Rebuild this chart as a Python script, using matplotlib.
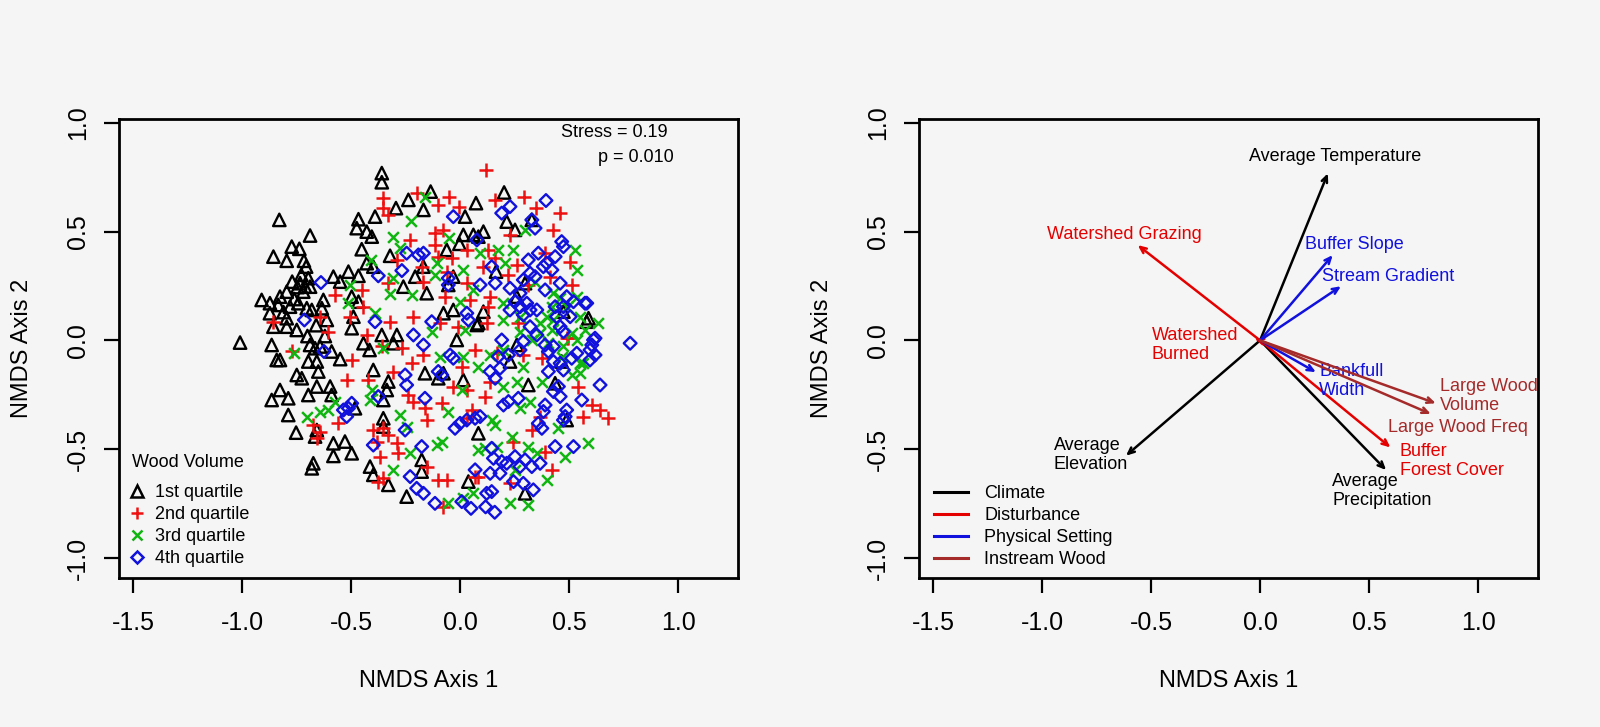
import numpy as np
import matplotlib
matplotlib.use("Agg")
import matplotlib.pyplot as plt
from matplotlib.lines import Line2D

plt.rcParams['font.family'] = ['Liberation Sans', 'DejaVu Sans']

# ---- NMDS site scores (by wood volume quartile) ----
q1_pts = [  # 1st quartile (black triangles)
    (-0.359, 0.769), (-0.359, 0.727), (-0.829, 0.554), (-0.688, 0.482), (-0.772, 0.431),
    (-0.737, 0.421), (-0.856, 0.385), (-0.795, 0.366), (-0.466, 0.557), (-0.474, 0.516),
    (-0.428, 0.500), (-0.390, 0.569), (-0.294, 0.608), (-0.237, 0.646), (-0.405, 0.477),
    (-0.451, 0.419), (-0.428, 0.355), (-0.321, 0.389), (-0.716, 0.366), (-0.706, 0.339),
    (-0.728, 0.301), (-0.696, 0.286), (-0.734, 0.263), (-0.711, 0.247), (-0.688, 0.247),
    (-0.746, 0.245), (-0.719, 0.224), (-0.512, 0.316), (-0.466, 0.297), (-0.581, 0.293),
    (-0.550, 0.270), (-0.910, 0.186), (-0.872, 0.171), (-0.826, 0.201), (-0.795, 0.224),
    (-0.834, 0.163), (-0.780, 0.155), (-0.742, 0.171), (-0.703, 0.148), (-0.872, 0.125),
    (-0.680, 0.140), (-0.627, 0.186), (-0.634, 0.148), (-0.497, 0.201), (-0.466, 0.178),
    (-0.795, 0.102), (-0.611, 0.094), (-0.489, 0.109), (-0.260, 0.247), (-0.206, 0.293),
    (-0.398, 0.339), (-0.135, 0.684), (0.073, 0.631), (0.202, 0.680), (0.023, 0.569),
    (-0.168, 0.600), (0.214, 0.546), (0.252, 0.508), (0.015, 0.485), (0.061, 0.485),
    (0.107, 0.500), (0.084, 0.477), (-0.061, 0.416), (-0.003, 0.444), (0.329, 0.554),
    (0.165, 0.316), (-0.031, 0.293), (-0.054, 0.255), (-0.153, 0.217), (-0.168, 0.339),
    (0.298, 0.263), (0.260, 0.201), (-0.031, 0.140), (0.107, 0.132), (-0.076, 0.125),
    (0.474, 0.132), (0.589, 0.102), (0.084, 0.079), (-1.009, -0.010), (-0.864, -0.021),
    (-0.841, -0.090), (-0.826, -0.090), (-0.688, -0.021), (-0.665, -0.036), (-0.642, -0.028),
    (-0.589, -0.051), (-0.550, -0.086), (-0.696, -0.097), (-0.657, -0.097), (-0.650, -0.143),
    (-0.749, -0.159), (-0.726, -0.174), (-0.826, -0.228), (-0.864, -0.274), (-0.788, -0.266),
    (-0.696, -0.251), (-0.657, -0.212), (-0.596, -0.212), (-0.589, -0.251), (-0.788, -0.343),
    (-0.752, -0.424), (-0.657, -0.412), (-0.665, -0.442), (-0.581, -0.473), (-0.528, -0.465),
    (-0.581, -0.531), (-0.497, -0.519), (-0.673, -0.565), (-0.680, -0.588), (-0.856, 0.063),
    (-0.795, 0.063), (-0.749, 0.048), (-0.497, 0.056), (-0.359, 0.025), (-0.290, 0.025),
    (-0.443, -0.013), (-0.415, -0.044), (-0.306, -0.013), (-0.398, -0.136), (-0.329, -0.189),
    (-0.336, -0.228), (-0.352, -0.274), (-0.352, -0.358), (-0.352, -0.396), (-0.482, -0.312),
    (-0.413, -0.580), (-0.398, -0.618), (-0.329, -0.664), (-0.245, -0.718), (0.077, 0.071),
    (0.581, 0.086), (-0.015, 0.002), (0.260, -0.021), (0.229, -0.097), (0.015, -0.182),
    (0.313, -0.205), (0.436, -0.197), (-0.161, -0.151), (-0.100, -0.174), (-0.076, -0.151),
    (0.084, -0.427), (-0.176, -0.549), (-0.176, -0.603), (0.038, -0.649), (0.298, -0.703),
    (0.466, -0.097), (0.489, -0.366), (-0.770, 0.270), (-0.660, 0.070), (-0.700, 0.020),
    (-0.620, 0.020), (-0.810, 0.130), (-0.760, 0.190),
]
q2_pts = [  # 2nd quartile (red plus)
    (-0.352, 0.654), (-0.329, 0.577), (-0.352, 0.608), (-0.199, 0.677), (-0.229, 0.462),
    (-0.290, 0.370), (-0.329, 0.263), (-0.451, 0.232), (-0.573, 0.209), (-0.214, 0.109),
    (-0.321, 0.086), (-0.642, 0.109), (-0.443, 0.155), (-0.505, 0.109), (0.119, 0.784),
    (-0.049, 0.661), (-0.100, 0.623), (-0.003, 0.612), (0.161, 0.646), (0.294, 0.661),
    (0.349, 0.608), (0.459, 0.585), (0.425, 0.508), (0.229, 0.485), (-0.115, 0.493),
    (-0.076, 0.508), (-0.115, 0.439), (-0.100, 0.385), (-0.038, 0.378), (0.031, 0.416),
    (0.130, 0.416), (0.161, 0.378), (0.107, 0.339), (-0.061, 0.316), (0.031, 0.263),
    (-0.069, 0.201), (0.046, 0.186), (0.138, 0.201), (0.130, 0.155), (0.222, 0.301),
    (0.260, 0.347), (0.390, 0.401), (0.505, 0.362), (0.413, 0.293), (0.512, 0.255),
    (0.313, 0.255), (-0.168, 0.270), (-0.176, 0.339), (-0.092, 0.079), (0.122, 0.079),
    (0.267, 0.079), (0.497, 0.010), (-0.856, 0.086), (-0.604, 0.040), (-0.772, -0.051),
    (-0.497, -0.090), (-0.520, -0.182), (-0.421, -0.182), (-0.428, 0.025), (-0.359, -0.028),
    (-0.267, -0.036), (-0.222, -0.105), (-0.306, -0.143), (-0.237, -0.251), (-0.214, -0.281),
    (-0.673, -0.389), (-0.642, -0.419), (-0.657, -0.450), (-0.558, -0.381), (-0.398, -0.412),
    (-0.352, -0.404), (-0.329, -0.434), (-0.382, -0.465), (-0.367, -0.534), (-0.375, -0.649),
    (-0.352, -0.634), (-0.290, -0.473), (-0.283, -0.519), (-0.008, 0.063), (-0.168, -0.067),
    (0.069, -0.044), (0.168, -0.059), (0.290, -0.067), (0.375, -0.082), (0.489, 0.010),
    (0.008, -0.120), (-0.031, -0.212), (0.031, -0.228), (0.115, -0.258), (0.138, -0.189),
    (-0.084, -0.289), (-0.161, -0.312), (-0.153, -0.366), (0.054, -0.320), (0.031, -0.358),
    (0.367, -0.350), (0.329, -0.412), (0.543, -0.212), (0.604, -0.297), (0.642, -0.320),
    (0.566, -0.350), (0.680, -0.358), (0.245, -0.465), (0.390, -0.511), (0.421, -0.595),
    (-0.153, -0.580), (-0.100, -0.641), (-0.061, -0.641), (0.069, -0.626), (0.084, -0.626),
    (0.229, -0.657), (-0.076, -0.764),
]
q3_pts = [  # 3rd quartile (green x)
    (-0.226, 0.549), (-0.309, 0.474), (-0.275, 0.424), (-0.410, 0.370), (-0.505, 0.255),
    (-0.321, 0.214), (-0.222, 0.209), (-0.512, 0.171), (-0.390, 0.125), (-0.306, 0.286),
    (-0.161, 0.661), (-0.049, 0.470), (0.298, 0.508), (0.245, 0.416), (0.176, 0.416),
    (0.092, 0.401), (-0.107, 0.355), (0.015, 0.324), (0.206, 0.355), (0.528, 0.416),
    (0.535, 0.324), (-0.115, 0.301), (0.061, 0.232), (0.344, 0.270), (0.428, 0.217),
    (0.459, 0.194), (0.535, 0.201), (0.489, 0.155), (0.421, 0.155), (0.199, 0.171),
    (0.000, 0.178), (0.367, 0.079), (0.428, 0.094), (0.199, 0.094), (0.634, 0.079),
    (0.573, 0.048), (0.550, -0.151), (-0.761, -0.059), (-0.703, -0.350), (-0.642, -0.327),
    (-0.604, -0.320), (-0.573, -0.281), (-0.405, -0.228), (-0.413, -0.274), (-0.275, -0.343),
    (-0.245, -0.396), (-0.229, -0.519), (-0.306, -0.595), (-0.352, -0.036), (-0.130, 0.040),
    (0.023, 0.048), (-0.092, -0.074), (0.015, -0.074), (0.084, -0.120), (0.138, -0.067),
    (0.199, -0.044), (0.275, 0.040), (0.329, 0.002), (0.367, 0.033), (0.405, -0.013),
    (0.535, 0.002), (0.550, -0.105), (0.512, -0.159), (0.466, -0.074), (0.260, -0.189),
    (0.199, -0.212), (0.375, -0.189), (0.275, -0.312), (-0.054, -0.327), (0.008, -0.228),
    (0.145, -0.366), (0.161, -0.389), (0.321, -0.281), (0.451, -0.404), (0.589, -0.473),
    (-0.084, -0.465), (-0.107, -0.481), (0.084, -0.503), (0.115, -0.496), (0.168, -0.488),
    (0.237, -0.442), (0.313, -0.488), (0.352, -0.519), (0.482, -0.534), (0.397, -0.641),
    (-0.054, -0.749), (0.015, -0.726), (0.061, -0.703), (0.229, -0.749), (0.313, -0.756),
    (0.252, -0.595), (0.421, 0.048), (0.512, 0.033), (0.566, -0.105), (0.474, -0.028),
    (0.290, -0.120), (0.397, 0.109), (0.275, 0.109), (0.550, 0.109),
]
q4_pts = [  # 4th quartile (blue diamonds)
    (-0.638, 0.266), (-0.375, 0.297), (-0.267, 0.321), (-0.245, 0.401), (-0.191, 0.393),
    (-0.714, 0.094), (-0.390, 0.086), (-0.031, 0.569), (0.394, 0.643), (0.229, 0.615),
    (0.191, 0.585), (0.329, 0.554), (0.344, 0.516), (0.077, 0.462), (0.466, 0.454),
    (0.474, 0.431), (-0.168, 0.401), (0.313, 0.370), (0.359, 0.401), (0.436, 0.385),
    (0.321, 0.309), (0.344, 0.293), (0.382, 0.339), (0.421, 0.324), (0.397, 0.355),
    (0.145, 0.339), (0.161, 0.263), (-0.054, 0.286), (-0.054, 0.255), (0.092, 0.255),
    (0.229, 0.240), (0.290, 0.278), (0.275, 0.217), (0.252, 0.178), (0.275, 0.155),
    (0.306, 0.171), (0.321, 0.140), (0.290, 0.117), (0.390, 0.232), (0.459, 0.263),
    (0.489, 0.201), (0.520, 0.178), (0.573, 0.171), (0.474, 0.155), (0.443, 0.109),
    (0.031, 0.125), (0.038, 0.094), (-0.130, 0.086), (-0.624, -0.051), (-0.512, -0.312),
    (-0.520, -0.350), (-0.535, -0.320), (-0.497, -0.289), (-0.375, -0.258), (-0.252, -0.159),
    (-0.245, -0.205), (-0.214, 0.025), (-0.398, -0.481), (-0.252, -0.412), (-0.229, -0.626),
    (-0.199, -0.680), (-0.168, -0.021), (-0.046, -0.067), (-0.031, -0.082), (-0.100, -0.143),
    (-0.084, -0.159), (-0.161, -0.266), (-0.176, -0.488), (0.191, 0.002), (0.222, -0.067),
    (0.138, -0.143), (0.161, -0.174), (0.183, -0.128), (0.275, -0.044), (0.290, -0.005),
    (0.405, -0.051), (0.428, -0.028), (0.459, 0.063), (0.474, 0.040), (0.612, 0.002),
    (0.596, -0.044), (0.535, -0.059), (0.459, -0.105), (0.405, -0.143), (0.428, -0.097),
    (0.474, -0.136), (0.451, -0.212), (0.459, -0.258), (0.428, -0.235), (0.642, -0.205),
    (0.558, -0.274), (0.267, -0.266), (0.199, -0.297), (0.222, -0.281), (0.390, -0.297),
    (0.382, -0.327), (0.489, -0.320), (0.474, -0.366), (0.482, -0.350), (0.359, -0.381),
    (0.375, -0.404), (0.092, -0.350), (0.069, -0.358), (0.031, -0.366), (0.000, -0.381),
    (-0.023, -0.404), (0.145, -0.496), (0.153, -0.542), (0.191, -0.557), (0.214, -0.565),
    (0.252, -0.534), (0.275, -0.580), (0.298, -0.549), (0.329, -0.580), (0.367, -0.565),
    (0.436, -0.488), (0.520, -0.488), (0.069, -0.595), (0.138, -0.611), (0.183, -0.611),
    (0.245, -0.649), (0.290, -0.657), (0.336, -0.687), (0.122, -0.703), (0.145, -0.695),
    (-0.115, -0.749), (-0.168, -0.703), (0.008, -0.741), (0.581, 0.171), (0.619, 0.010),
    (0.604, -0.021), (0.619, -0.067), (0.780, -0.013), (0.050, -0.772), (0.117, -0.765),
    (0.159, -0.790), (0.321, 0.063), (0.352, 0.025), (0.390, -0.021), (0.512, -0.082),
    (0.596, -0.090), (0.176, -0.074), (0.352, 0.140), (0.436, 0.155), (0.505, 0.109),
    (0.229, 0.140),
]
quartile_labels = ['1st quartile', '2nd quartile', '3rd quartile', '4th quartile']

# ---- fitted environmental vectors (right panel) ----
vec_names = ['Average Temperature', 'Average\nPrecipitation', 'Average\nElevation',
             'Watershed Grazing', 'Watershed\nBurned', 'Buffer\nForest Cover',
             'Buffer Slope', 'Stream Gradient', 'Bankfull\nWidth',
             'Large Wood\nVolume', 'Large Wood Freq']
vec_x = [0.311, 0.578, -0.615, -0.561, -0.025, 0.598, 0.333, 0.371, 0.256, 0.806, 0.783]
vec_y = [0.768, -0.596, -0.530, 0.438, 0.008, -0.492, 0.392, 0.249, -0.146, -0.289, -0.338]
vec_group = ['Climate', 'Climate', 'Climate', 'Disturbance', 'Disturbance', 'Disturbance',
             'Physical Setting', 'Physical Setting', 'Physical Setting',
             'Instream Wood', 'Instream Wood']
group_names = ['Climate', 'Disturbance', 'Physical Setting', 'Instream Wood']

# label placement (x, y, horizontal alignment)
label_pos = [(0.342, 0.845, 'center'), (0.330, -0.694, 'left'), (-0.946, -0.525, 'left'),
             (-0.624, 0.488, 'center'), (-0.497, -0.02, 'left'), (0.640, -0.553, 'left'),
             (0.206, 0.441, 'left'), (0.283, 0.295, 'left'), (0.271, -0.187, 'left'),
             (0.824, -0.257, 'left'), (0.586, -0.399, 'left')]

BG = '#f5f5f5'
q_colors = ['black', '#ee1111', '#11b511', '#1111dd']
grp_colors = {'Climate': 'black', 'Disturbance': '#e50000',
              'Physical Setting': '#1111dd', 'Instream Wood': '#a52a2a'}
XLIM = (-1.564, 1.275)
YLIM = (-1.092, 1.018)


def style_axes(ax):
    ax.set_facecolor(BG)
    ax.set_xlim(*XLIM)
    ax.set_ylim(*YLIM)
    ax.set_xticks([-1.5, -1.0, -0.5, 0.0, 0.5, 1.0])
    ax.set_yticks([-1.0, -0.5, 0.0, 0.5, 1.0])
    ax.xaxis.set_major_formatter(matplotlib.ticker.FormatStrFormatter('%.1f'))
    ax.yaxis.set_major_formatter(matplotlib.ticker.FormatStrFormatter('%.1f'))
    ax.tick_params(length=11, width=1.6, labelsize=18)
    ax.tick_params(axis='x', pad=13)
    ax.tick_params(axis='y', pad=10)
    for lab in ax.get_yticklabels():
        lab.set_rotation(90)
        lab.set_va('center')
    for sp in ax.spines.values():
        sp.set_linewidth(2)
    ax.set_xlabel('NMDS Axis 1', fontsize=17, labelpad=25)
    ax.set_ylabel('NMDS Axis 2', fontsize=17, labelpad=24)


fig = plt.figure(figsize=(16, 7.27), dpi=100, facecolor=BG)

# left: site scores
ax1 = fig.add_axes([0.0744, 0.2050, 0.3869, 0.6314])
style_axes(ax1)
markers = ['^', '+', 'x', 'D']
sizes = [80, 100, 60, 42]
handles = []
for pts, col, mk, sz, lab in zip([q1_pts, q2_pts, q3_pts, q4_pts], q_colors,
                                 markers, sizes, quartile_labels):
    arr = np.array(pts)
    if mk in ('^', 'D'):
        ax1.scatter(arr[:, 0], arr[:, 1], s=sz, marker=mk, facecolors='none',
                    edgecolors=col, linewidths=1.7)
    else:
        ax1.scatter(arr[:, 0], arr[:, 1], s=sz, marker=mk, c=col, linewidths=1.8)
    handles.append(Line2D([], [], linestyle='none', marker=mk, markersize=np.sqrt(sz) * 0.9,
                          markerfacecolor='none', markeredgecolor=col,
                          markeredgewidth=1.8, label=lab))
ax1.legend(handles=handles, loc='lower left', frameon=False, fontsize=13,
           labelspacing=0.28, handlelength=0.8, handletextpad=0.6,
           borderpad=1.25, borderaxespad=-0.65)
ax1.text(0.0205, 0.2505, 'Wood Volume', transform=ax1.transAxes, fontsize=13,
         ha='left', va='center')
ax1.text(0.463, 0.954, 'Stress = 0.19', fontsize=13, ha='left', va='center')
ax1.text(0.633, 0.839, 'p = 0.010', fontsize=13, ha='left', va='center')

# right: environmental vectors
ax2 = fig.add_axes([0.5744, 0.2050, 0.3869, 0.6314])
style_axes(ax2)
for name, vx, vy, grp, (lx, ly, ha) in zip(vec_names, vec_x, vec_y, vec_group, label_pos):
    col = grp_colors[grp]
    ax2.annotate('', xy=(vx, vy), xytext=(0, 0),
                 arrowprops=dict(arrowstyle='->,head_length=0.45,head_width=0.2',
                                 color=col, lw=1.8, shrinkA=0, shrinkB=0))
    ax2.text(lx, ly, name, color=col, fontsize=13, ha=ha, va='center', linespacing=1.15)
grp_handles = [Line2D([], [], color=grp_colors[g], lw=2.2, label=g) for g in group_names]
ax2.legend(handles=grp_handles, loc='lower left', bbox_to_anchor=(0.008, 0.0),
           frameon=False, fontsize=13, labelspacing=0.28, handlelength=1.9,
           handletextpad=0.9, borderaxespad=0.15)

fig.savefig('out.png', dpi=100, facecolor=BG)
